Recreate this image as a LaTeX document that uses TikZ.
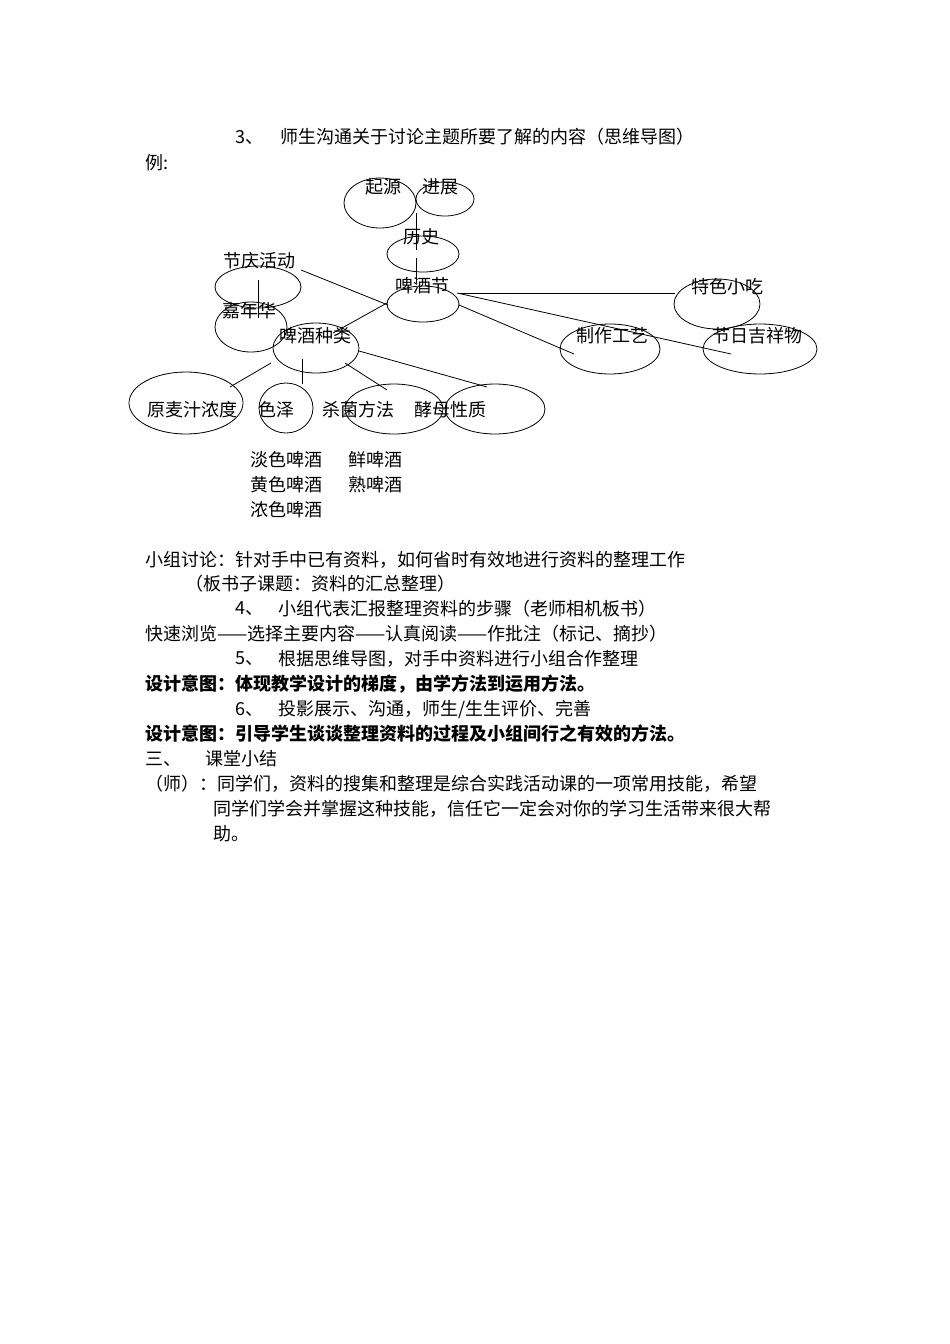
\documentclass[tikz,border=0pt]{standalone}
\usepackage{fontspec}
\setmainfont{Noto Sans CJK SC}
\begin{document}
\begin{tikzpicture}[x=1pt,y=-1pt,
  t/.style={anchor=west,inner sep=0pt,font=\fontsize{18}{18}\selectfont},
  tb/.style={t,font=\fontsize{18}{18}\selectfont\bfseries},
  lab/.style={inner sep=0pt,font=\fontsize{18}{18}\selectfont},
  ov/.style={draw,line width=0.8pt},
  ln/.style={line width=0.8pt}]
\useasboundingbox[fill=white] (0,0) rectangle (950,1344);
% ellipses
\draw[ov] (380,203) ellipse [x radius=36,y radius=25];
\draw[ov] (445,199) ellipse [x radius=29,y radius=17];
\draw[ov] (423,254) ellipse [x radius=36,y radius=18];
\draw[ov] (423,304) ellipse [x radius=36,y radius=18];
\draw[ov] (258,287) ellipse [x radius=43,y radius=21];
\draw[ov] (251,327) ellipse [x radius=36,y radius=25];
\draw[ov] (316,348) ellipse [x radius=43,y radius=25];
\draw[ov] (717,304) ellipse [x radius=43,y radius=25];
\draw[ov] (610,349) ellipse [x radius=50,y radius=25];
\draw[ov] (760,349) ellipse [x radius=57,y radius=25];
\draw[ov] (186,403) ellipse [x radius=57,y radius=31];
\draw[ov] (286,408) ellipse [x radius=27,y radius=25];
\draw[ov] (394,409) ellipse [x radius=49,y radius=25];
\draw[ov] (495,409) ellipse [x radius=50,y radius=25];
% labels
\node[lab] (qy) at (383,187) {起源};
\node[lab] (jz) at (440,187) {进展};
\node[lab] (ls) at (421,237) {历史};
\node[lab] (pjj) at (422,286) {啤酒节};
\node[lab] (jq) at (259,261) {节庆活动};
\node[lab] (jnh) at (249,311) {嘉年华};
\node[lab] (zl) at (315,336) {啤酒种类};
\node[lab] (ts) at (727,287) {特色小吃};
\node[lab] (zz) at (612,336) {制作工艺};
\node[lab] (jr) at (757,336) {节日吉祥物};
\node[lab] (ymz) at (192,410) {原麦汁浓度};
\node[lab] (sz) at (276,410) {色泽};
\node[lab] (sj) at (358,410) {杀菌方法};
\node[lab] (jm) at (450,410) {酵母性质};
% connectors
\coordinate (a1) at (416,213); \coordinate (a2) at (416,250);
\coordinate (a3) at (416,258); \coordinate (a4) at (416,283);
\draw[ln] (a1)--(a2); \draw[ln] (a3)--(a4);
\coordinate (b1) at (258,280); \coordinate (b2) at (258,318); \draw[ln] (b1)--(b2);
\coordinate (c1) at (301,270); \coordinate (c2) at (388,305); \draw[ln] (c1)--(c2);
\coordinate (d1) at (387,303); \coordinate (d2) at (333,333); \draw[ln] (d1)--(d2);
\coordinate (e1) at (459,293); \coordinate (e2) at (675,293); \draw[ln] (e1)--(e2);
\coordinate (f1) at (459,305); \coordinate (f2) at (574,354); \draw[ln] (f1)--(f2);
\coordinate (g1) at (457,293); \coordinate (g2) at (731,354); \draw[ln] (g1)--(g2);
\coordinate (h1) at (271,363); \coordinate (h2) at (230,387); \draw[ln] (h1)--(h2);
\coordinate (i1) at (302,359); \coordinate (i2) at (302,384); \draw[ln] (i1)--(i2);
\coordinate (j1) at (345,363); \coordinate (j2) at (387,390); \draw[ln] (j1)--(j2);
\coordinate (k1) at (359,351); \coordinate (k2) at (487,387); \draw[ln] (k1)--(k2);
% text
\node[t] (l1a) at (235,137) {3、};
\node[t] (l1b) at (280,137) {师生沟通关于讨论主题所要了解的内容（思维导图）};
\node[t] (l2) at (145,163) {例:};
\node[t] (s1) at (250,460) {淡色啤酒};
\node[t] (s2) at (348,460) {鲜啤酒};
\node[t] (s3) at (250,485) {黄色啤酒};
\node[t] (s4) at (348,485) {熟啤酒};
\node[t] (s5) at (250,510) {浓色啤酒};
\node[t] (p1) at (145,560) {小组讨论：针对手中已有资料，如何省时有效地进行资料的整理工作};
\node[t] (p2) at (185,584) {（板书子课题：资料的汇总整理）};
\node[t] (p3a) at (235,609) {4、};
\node[t] (p3b) at (278,609) {小组代表汇报整理资料的步骤（老师相机板书）};
\node[t] (p4) at (145,634) {快速浏览——选择主要内容——认真阅读——作批注（标记、摘抄）};
\node[t] (p5a) at (235,659) {5、};
\node[t] (p5b) at (278,659) {根据思维导图，对手中资料进行小组合作整理};
\node[tb] (p6) at (145,684) {设计意图：体现教学设计的梯度，由学方法到运用方法。};
\node[t] (p7a) at (235,709) {6、};
\node[t] (p7b) at (278,709) {投影展示、沟通，师生/生生评价、完善};
\node[tb] (p8) at (145,734) {设计意图：引导学生谈谈整理资料的过程及小组间行之有效的方法。};
\node[t] (p9a) at (145,759) {三、};
\node[t] (p9b) at (205,759) {课堂小结};
\node[t] (p10) at (145,784) {（师）：同学们，资料的搜集和整理是综合实践活动课的一项常用技能，希望};
\node[t] (p11) at (213,809) {同学们学会并掌握这种技能，信任它一定会对你的学习生活带来很大帮};
\node[t] (p12) at (213,834) {助。};
\end{tikzpicture}
\end{document}
